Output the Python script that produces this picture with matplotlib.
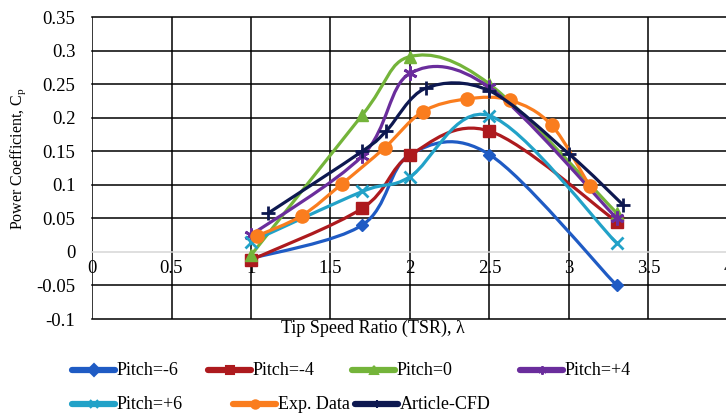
import numpy as np
import matplotlib.pyplot as plt
from matplotlib.path import Path
from matplotlib.patches import PathPatch
from matplotlib.lines import Line2D

plt.rcParams['font.family'] = ['Liberation Serif', 'DejaVu Serif']
plt.rcParams['mathtext.fontset'] = 'custom'
plt.rcParams['mathtext.rm'] = 'Liberation Serif'
plt.rcParams['mathtext.it'] = 'Liberation Serif:italic'

# TSR / Cp for each pitch angle
tsr_pitch = [1.0, 1.7, 2.0, 2.5, 3.3]
cp_m6 = [-0.010, 0.040, 0.145, 0.145, -0.050]
cp_m4 = [-0.012, 0.065, 0.144, 0.180, 0.045]
cp_0 = [-0.005, 0.204, 0.291, 0.250, 0.058]
cp_p4 = [0.025, 0.143, 0.266, 0.245, 0.050]
cp_p6 = [0.015, 0.090, 0.112, 0.203, 0.013]

# experiment
tsr_exp = [1.04, 1.32, 1.57, 1.84, 2.08, 2.36, 2.63, 2.89, 3.13]
cp_exp = [0.024, 0.054, 0.101, 0.155, 0.209, 0.228, 0.226, 0.189, 0.098]

# CFD from the article
tsr_cfd = [1.11, 1.70, 1.85, 2.10, 2.50, 3.00, 3.34]
cp_cfd = [0.058, 0.150, 0.180, 0.244, 0.240, 0.146, 0.070]

labels = ['Pitch=-6', 'Pitch=-4', 'Pitch=0', 'Pitch=+4',
          'Pitch=+6', 'Exp. Data', 'Article-CFD']
xs = [tsr_pitch] * 5 + [tsr_exp, tsr_cfd]
ys = [cp_m6, cp_m4, cp_0, cp_p4, cp_p6, cp_exp, cp_cfd]
colors = ['#1f5bc4', '#ad1a1e', '#74b43a', '#6a2d9c',
          '#22a2c8', '#fa7d1e', '#0d1850']
markers = ['D', 's', '^', (6, 2, 0), 'x', 'o', '+']
msizes = [6.5, 8.5, 8.5, 10, 8, 9.5, 10]


def smooth_path(x, y):
    # Excel style smoothed line: cubic bezier, catmull-rom tangents
    pts = np.column_stack([x, y])
    n = len(pts)
    verts = [pts[0]]
    codes = [Path.MOVETO]
    for i in range(n - 1):
        p0 = pts[i - 1] if i > 0 else pts[i]
        p1, p2 = pts[i], pts[i + 1]
        p3 = pts[i + 2] if i + 2 < n else pts[i + 1]
        verts += [p1 + (p2 - p0) / 6, p2 - (p3 - p1) / 6, p2]
        codes += [Path.CURVE4] * 3
    return Path(verts, codes)


fig = plt.figure(figsize=(7.26, 4.15), dpi=100)
ax = fig.add_axes([92 / 726, 1 - 319 / 415, 636 / 726, 302 / 415])

z = 3
for x, y, c, m, ms in zip(xs, ys, colors, markers, msizes):
    patch = PathPatch(smooth_path(x, y), fill=False, edgecolor=c, lw=2.3,
                      capstyle='round', joinstyle='round', zorder=z)
    ax.add_patch(patch)
    ax.plot(x, y, ls='none', marker=m, ms=ms, color=c, mec=c,
            mew=2 if m in ('x', '+', (6, 2, 0)) else 1, zorder=z + 0.5)
    z += 1

ax.set_xlim(0, 4)
ax.set_ylim(-0.1, 0.35)
xticks = np.arange(0, 4.01, 0.5)
yticks = np.arange(-0.1, 0.351, 0.05)
ax.set_xticks(xticks)
ax.set_xticklabels(['0', '0.5', '1', '1.5', '2', '2.5', '3', '3.5', '4'])
ax.set_yticks(yticks)
ax.set_yticklabels(['-0.1', '-0.05', '0', '0.05', '0.1', '0.15',
                    '0.2', '0.25', '0.3', '0.35'])
ax.grid(True, color='black', lw=1.1)
for line, v in zip(ax.get_ygridlines(), yticks):
    if abs(v) < 1e-9:
        line.set_color('#d6d6d6')
for line in ax.get_xgridlines() + ax.get_ygridlines():
    line.set_clip_on(False)

# x labels sit on the zero line
ax.spines['bottom'].set_position(('data', 0))
for s in ax.spines.values():
    s.set_color('none')
ax.tick_params(axis='x', length=0, pad=6, labelsize=13.5)
ax.tick_params(axis='y', length=0, pad=12, labelsize=13.5)

ax.set_ylabel(r'Power Coefficient, C$_\mathrm{p}$', fontsize=11.5)
ax.yaxis.set_label_coords(-0.1, 0.53)
fig.text(373 / 726, 1 - 328 / 415, 'Tip Speed Ratio (TSR), λ',
         ha='center', va='center', fontsize=13)

# legend, two rows
leg_pos = [(72, 370), (208, 370), (352, 370), (520, 370),
           (72, 404), (233, 404), (355, 404)]
for (px, py), lab, c, m in zip(leg_pos, labels, colors, markers):
    fx0, fx1, fy = px / 726, (px + 43) / 726, 1 - py / 415
    fig.add_artist(Line2D([fx0, fx1], [fy, fy], color=c, lw=4.5,
                          solid_capstyle='round', transform=fig.transFigure))
    fig.add_artist(Line2D([(fx0 + fx1) / 2], [fy], color=c, marker=m, ms=6,
                          mew=1.5, transform=fig.transFigure))
    fig.text((px + 45) / 726, fy, lab, ha='left', va='center', fontsize=13)

fig.savefig('out.png', dpi=100)
